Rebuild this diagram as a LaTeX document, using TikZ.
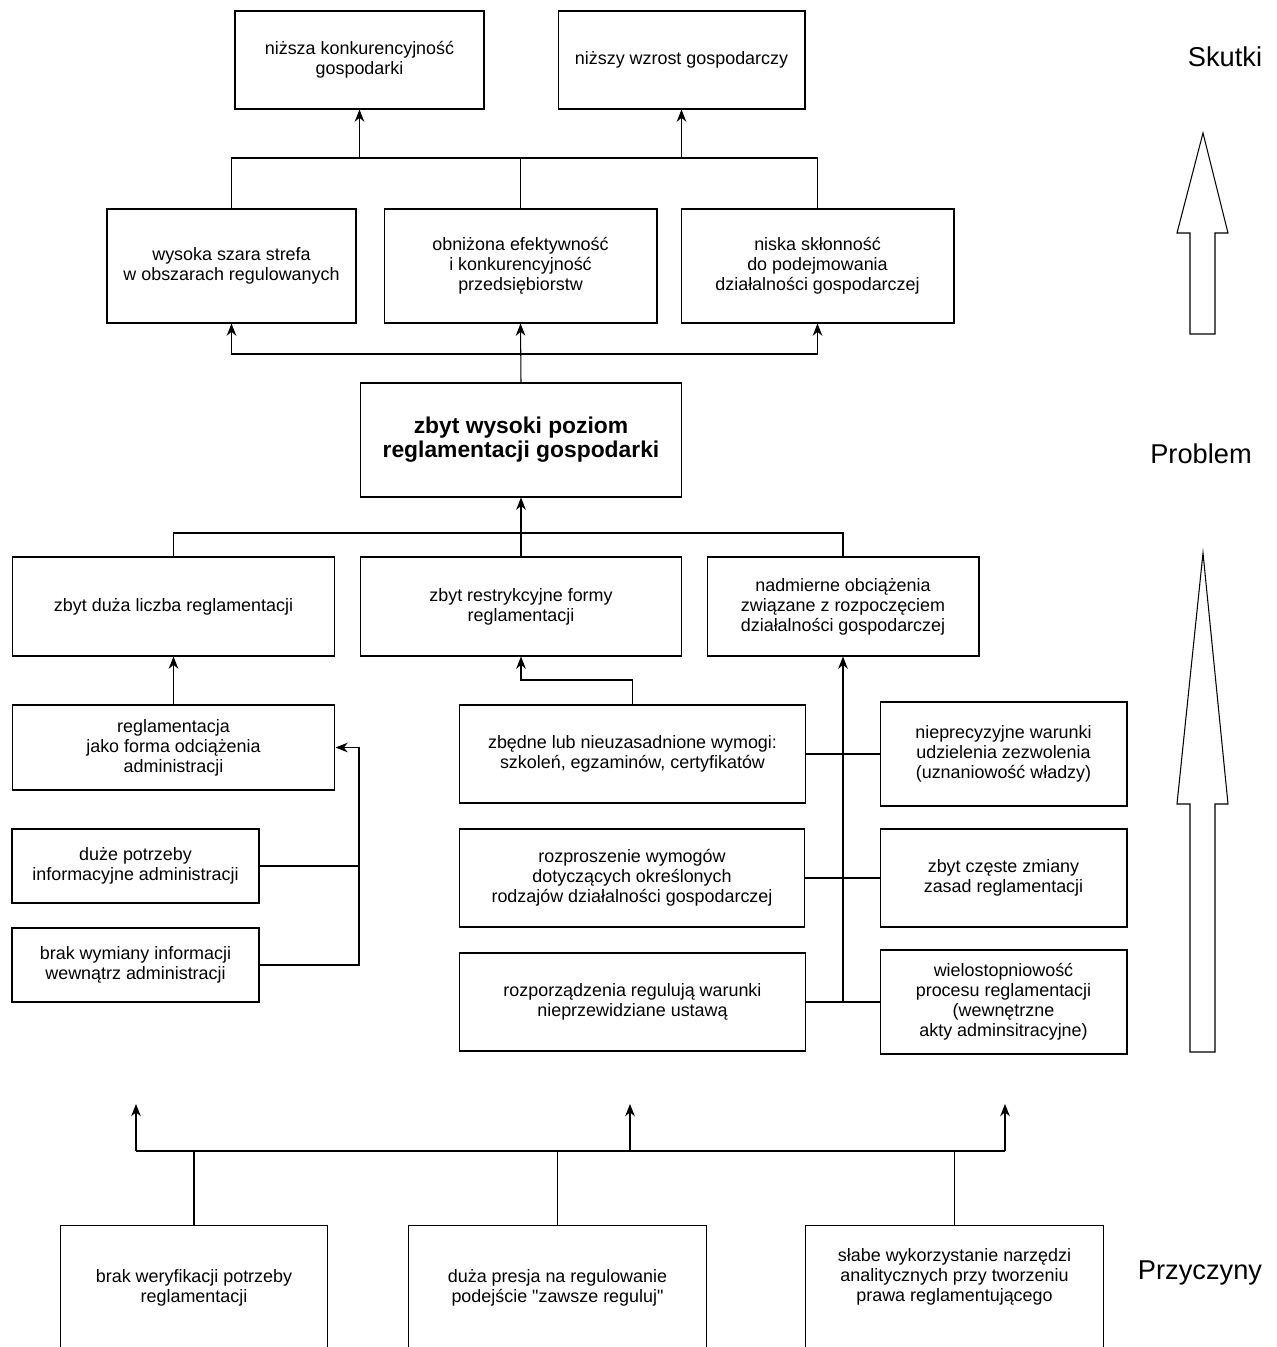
\documentclass[tikz,border=0pt]{standalone}
\usepackage{fontspec}
\setmainfont{Liberation Sans}[Ligatures=TeXOff]
\usetikzlibrary{arrows.meta}

\tikzset{
  box/.style={draw,align=center,inner sep=0pt,font=\fontsize{10.2}{11.4}\selectfont},
  openbox/.style={align=center,inner sep=0pt,font=\fontsize{10.2}{11.4}\selectfont},
  side/.style={font=\fontsize{15.5}{17}\selectfont},
}

\begin{document}
\begin{tikzpicture}[x=0.02cm,y=-0.02cm,line width=0.6pt,>={Stealth[length=7pt,width=5.5pt]}]
\useasboundingbox (0,0) rectangle (1277,1347);
% effects
\node[box,minimum width=4.98cm,minimum height=1.96cm] (effcomp) at (359.5,60) {niższa konkurencyjność\\gospodarki};
\node[box,minimum width=4.94cm,minimum height=1.96cm] (effgrowth) at (681.5,60) {niższy wzrost gospodarczy};
\node[box,minimum width=4.98cm,minimum height=2.28cm] (shadow) at (231.5,266) {wysoka szara strefa\\w obszarach regulowanych};
\node[box,minimum width=5.46cm,minimum height=2.28cm] (efficiency) at (520.5,266) {obniżona efektywność\\i konkurencyjność\\przedsiębiorstw};
\node[box,minimum width=5.46cm,minimum height=2.28cm] (propensity) at (817.5,266) {niska skłonność\\do podejmowania\\działalności gospodarczej};
% problem
\node[box,minimum width=6.44cm,minimum height=2.28cm,font=\bfseries\fontsize{13}{13.8}\selectfont] (problem) at (521,440) {zbyt wysoki poziom\\reglamentacji gospodarki};
% causes
\node[box,minimum width=6.46cm,minimum height=1.98cm] (number) at (173.5,606.5) {zbyt duża liczba reglamentacji};
\node[box,minimum width=6.44cm,minimum height=1.98cm] (forms) at (521,606.5) {zbyt restrykcyjne formy\\reglamentacji};
\node[box,minimum width=5.44cm,minimum height=1.98cm] (burden) at (843,606.5) {nadmierne obciążenia\\związane z rozpoczęciem\\działalności gospodarczej};
\node[box,minimum width=6.46cm,minimum height=1.70cm] (relief) at (173.5,747.5) {reglamentacja\\jako forma odciążenia\\administracji};
\node[box,minimum width=4.94cm,minimum height=1.48cm] (infoneeds) at (135.5,866) {duże potrzeby\\informacyjne administracji};
\node[box,minimum width=4.94cm,minimum height=1.48cm] (infoexch) at (135.5,965) {brak wymiany informacji\\wewnątrz administracji};
\node[box,minimum width=6.94cm,minimum height=1.96cm] (needless) at (632.5,754) {zbędne lub nieuzasadnione wymogi:\\szkoleń, egzaminów, certyfikatów};
\node[box,minimum width=6.92cm,minimum height=1.96cm] (dispersion) at (632,878) {rozproszenie wymogów\\dotyczących określonych\\rodzajów działalności gospodarczej};
\node[box,minimum width=6.94cm,minimum height=1.96cm] (decrees) at (632.5,1002) {rozporządzenia regulują warunki\\nieprzewidziane ustawą};
\node[box,minimum width=4.94cm,minimum height=2.08cm] (vague) at (1003.5,754) {nieprecyzyjne warunki\\udzielenia zezwolenia\\(uznaniowość władzy)};
\node[box,minimum width=4.94cm,minimum height=1.96cm] (changes) at (1003.5,878) {zbyt częste zmiany\\zasad reglamentacji};
\node[box,minimum width=4.94cm,minimum height=2.08cm] (multistage) at (1003.5,1002) {wielostopniowość\\procesu reglamentacji\\(wewnętrzne\\akty adminsitracyjne)};
% root causes, cut at the bottom
\node[openbox,minimum width=5.32cm,minimum height=2.48cm] (noverif) at (194,1288) {brak weryfikacji potrzeby\\reglamentacji};
\node[openbox,minimum width=5.94cm,minimum height=2.48cm] (pressure) at (557.5,1288) {duża presja na regulowanie\\podejście "zawsze reguluj"};
\node[openbox,minimum width=5.94cm,minimum height=2.04cm] (tools) at (954.5,1277) {słabe wykorzystanie narzędzi\\analitycznych przy tworzeniu\\prawa reglamentującego};
\coordinate (floor) at (0,1365);
\foreach \g in {noverif,pressure,tools}
  \draw (\g.north west |- floor) -- (\g.north west) -- (\g.north east) -- (\g.north east |- floor);

% connectors
\coordinate (topbus) at (0,158);
\coordinate (midbus) at (0,354);
\coordinate (lowbus) at (0,533);
\coordinate (jog) at (0,680);
\coordinate (leftbus) at (359,0);
\coordinate (botbus) at (0,1151);
\coordinate (up1) at (136,1104);
\coordinate (up2) at (630,1104);
\coordinate (up3) at (1005,1104);

\draw (shadow.north) -- (shadow.north |- topbus) -- (propensity.north |- topbus) -- (propensity.north);
\draw (efficiency.north) -- (efficiency.north |- topbus);
\draw[->] (effcomp.south |- topbus) -- (effcomp.south);
\draw[->] (effgrowth.south |- topbus) -- (effgrowth.south);

\draw[->] (problem.north) -- (efficiency.south);
\draw[<->] (shadow.south) -- (shadow.south |- midbus) -- (propensity.south |- midbus) -- (propensity.south);

\draw[->] (forms.north) -- (problem.south);
\draw (number.north) -- (number.north |- lowbus) -- (burden.north |- lowbus) -- (burden.north);

\draw[->] (relief.north) -- (number.south);
\draw (infoneeds.east) -- (infoneeds.east -| leftbus);
\draw[->] (infoexch.east) -| (relief.east -| leftbus) -- (relief.east);

\draw[->] (needless.north) |- (forms.south |- jog) -- (forms.south);
\draw[->] (burden.south |- decrees.east) -- (burden.south);
\draw (needless.east) -- (vague.west);
\draw (dispersion.east) -- (changes.west);
\draw (decrees.east) -- (multistage.west);

\draw (up1 |- botbus) -- (up3 |- botbus);
\foreach \u in {up1,up2,up3}
  \draw[->] (\u |- botbus) -- (\u);
\foreach \g in {noverif,pressure,tools}
  \draw (\g.north) -- (\g.north |- botbus);

% side arrows and labels
\draw (1190,334) -- (1190,233) -- (1177,233) -- (1203,133) -- (1228,233) -- (1215,233) -- (1215,334) -- cycle;
\draw (1190,1052) -- (1190,804) -- (1177,804) -- (1203,553) -- (1228,804) -- (1215,804) -- (1215,1052) -- cycle;
\node[side] (effects) at (1225,57) {Skutki};
\node[side] (probl) at (1201,454) {Problem};
\node[side] (causes) at (1200,1273) {Przyczyny};
\end{tikzpicture}
\end{document}
